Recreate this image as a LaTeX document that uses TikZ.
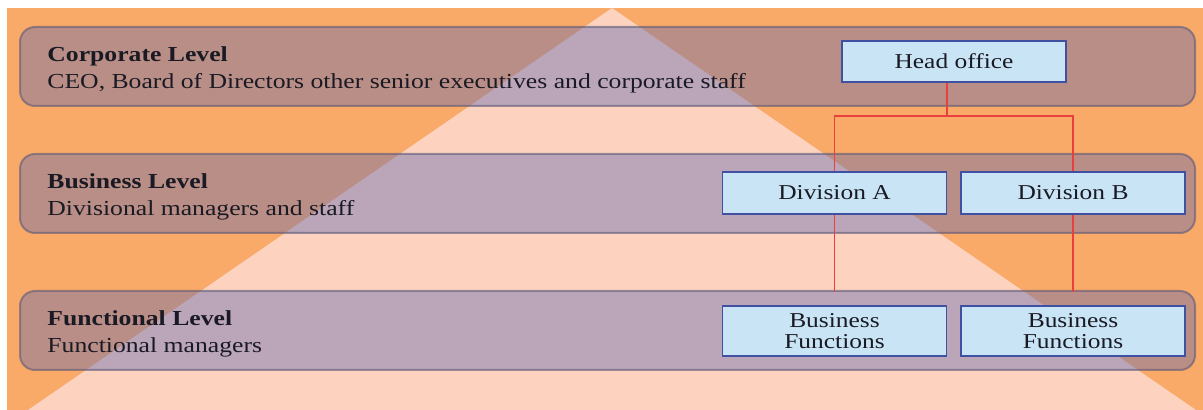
\documentclass[tikz,border=0pt]{standalone}
\usepackage{fontspec}
\setmainfont{Liberation Serif}[FakeStretch=1.2]
\definecolor{bgorange}{RGB}{249,170,105}
\definecolor{peach}{RGB}{253,210,191}
\definecolor{bandblue}{RGB}{89,102,178}
\definecolor{bandedge}{RGB}{95,90,120}
\definecolor{boxedge}{RGB}{63,81,160}
\definecolor{boxfill}{RGB}{201,229,245}
\definecolor{txt}{RGB}{26,26,36}
\definecolor{linered}{RGB}{232,64,60}
\begin{document}
\begin{tikzpicture}[x=0.5pt,y=-0.5pt,
  bandfill/.style={rounded corners=7.5pt, fill=bandblue, fill opacity=0.4, draw=bandedge, draw opacity=0.6, line width=1pt},
  orgbox/.style={draw=boxedge, fill=boxfill, line width=0.8pt, minimum width=112pt, inner sep=0pt, align=center, font=\fontsize{10.6}{10.5}\selectfont, text=txt},
  title/.style={anchor=base west, font=\fontsize{10.7}{12}\selectfont\bfseries, inner sep=0pt, text=txt},
  sub/.style={anchor=base west, font=\fontsize{10.7}{12}\selectfont, inner sep=0pt, text=txt},
  conn/.style={draw=linered, line width=0.9pt}
]
\useasboundingbox (0,0) rectangle (1203,410);
\fill[white] (0,0) rectangle (1203,410);
\fill[bgorange] (7,8) rectangle (1203,410);
\fill[peach] (612,8) -- (1196,410) -- (28,410) -- cycle;
% bands
\path[bandfill] (20,27) rectangle (1195,106);
\path[bandfill] (20,154) rectangle (1195,233);
\path[bandfill] (20,291) rectangle (1195,370);
% texts
\node[title] (t1) at (47,62) {Corporate Level};
\node[sub] (s1) at (47,89) {CEO, Board of Directors other senior executives and corporate staff};
\node[title] (t2) at (47,189) {Business Level};
\node[sub] (s2) at (47,216) {Divisional managers and staff};
\node[title] (t3) at (47,326) {Functional Level};
\node[sub] (s3) at (47,353) {Functional managers};
% boxes
\node[orgbox, minimum height=20.5pt] (ho) at (954,61.5) {Head office};
\node[orgbox, minimum height=21pt] (da) at (834.5,193) {Division A};
\node[orgbox, minimum height=21pt] (db) at (1073,193) {Division B};
\node[orgbox, minimum height=25pt] (fa) at (834.5,331) {Business\\Functions};
\node[orgbox, minimum height=25pt] (fb) at (1073,331) {Business\\Functions};
% connectors
\coordinate (j) at (947,116);
\coordinate (ea) at (834.5,292);
\coordinate (eb) at (1073,292);
\draw[conn] (ho.south -| j) -- (j);
\draw[conn] (j) -| (da.north);
\draw[conn] (j) -| (db.north);
\draw[conn] (da.south) -- (ea);
\draw[conn] (db.south) -- (eb);
\end{tikzpicture}
\end{document}
